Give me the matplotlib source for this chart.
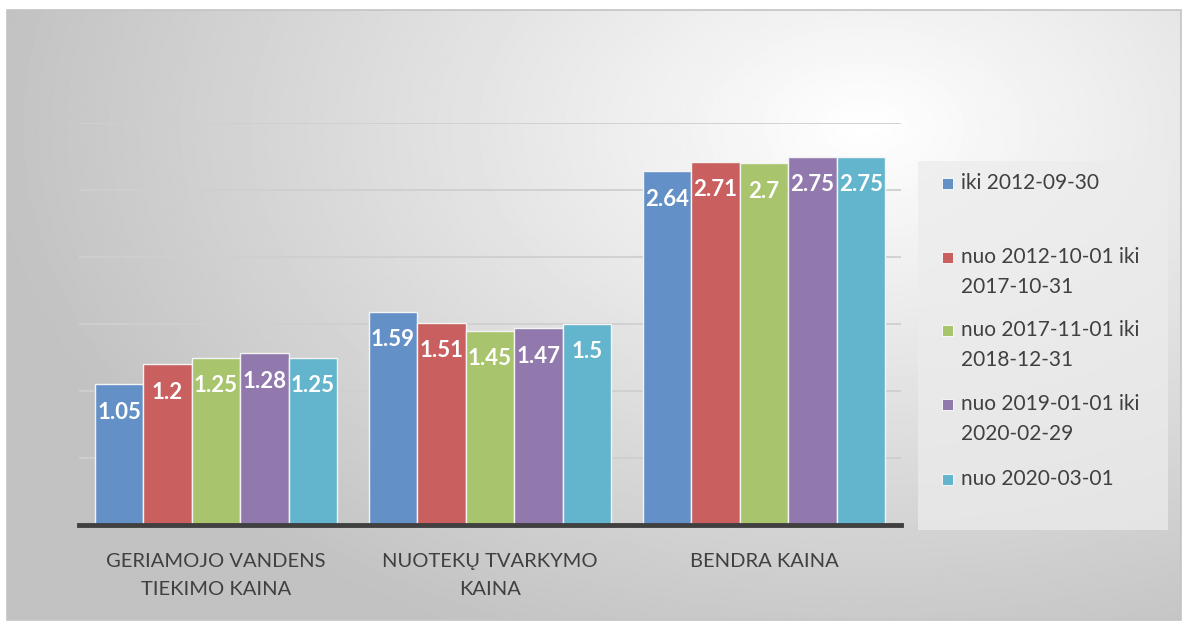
"""
Water price comparison by period (grouped bars)
"""
import matplotlib.pyplot as plt
import numpy as np
from matplotlib.patches import Rectangle

categories = ['GERIAMOJO VANDENS\nTIEKIMO KAINA', 'NUOTEKŲ TVARKYMO\nKAINA', 'BENDRA KAINA']
series_names = ['iki 2012-09-30', 'nuo 2012-10-01 iki\n2017-10-31', 'nuo 2017-11-01 iki\n2018-12-31',
                'nuo 2019-01-01 iki\n2020-02-29', 'nuo 2020-03-01']
values_2012 = [1.05, 1.59, 2.64]
values_2017 = [1.2, 1.51, 2.71]
values_2018 = [1.25, 1.45, 2.7]
values_2020a = [1.28, 1.47, 2.75]
values_2020b = [1.25, 1.5, 2.75]
all_values = [values_2012, values_2017, values_2018, values_2020a, values_2020b]
colors = ['#6391c7', '#c9605f', '#a8c46c', '#9179ae', '#62b5cc']

FONT = ['Lato', 'DejaVu Sans']

fig = plt.figure(figsize=(11.91, 6.23), dpi=100)

# gradient background in a frame
bg = fig.add_axes([0, 0, 1, 1], zorder=-10)
bg.set_xlim(0, 1191)
bg.set_ylim(623, 0)
bg.axis('off')
xx, yy = np.meshgrid(np.linspace(0, 1191, 1200), np.linspace(0, 623, 630))
dist = np.sqrt(((xx - 870) / 1000) ** 2 + ((yy - 120) / 650) ** 2)
shade = np.clip(1.0 - 0.27 * dist, 0.76, 1.0)
bg.imshow(shade, cmap='gray', vmin=0, vmax=1, extent=[7, 1181, 620, 10], aspect='auto',
          interpolation='bilinear', zorder=0)
bg.add_patch(Rectangle((7, 10), 1174, 610, fill=False, edgecolor='#c4c4c4', lw=1.2, zorder=1))

# legend box
bg.add_patch(Rectangle((918, 161), 250, 369, facecolor='#ececec', edgecolor='none', alpha=0.75, zorder=2))
legend_y = [183, 257, 330, 404, 479]
for name, c, ly in zip(series_names, colors, legend_y):
    bg.add_patch(Rectangle((942, ly - 5), 11, 11, facecolor=c, edgecolor='white', lw=0.6, zorder=3))
    lines = name.split('\n')
    for i, line in enumerate(lines):
        bg.text(961, ly + i * 30, line, fontsize=15, color='#404040', va='center', ha='left',
                family=FONT, zorder=3)

ax = fig.add_axes([79 / 1191, 1 - 525 / 623, (901 - 79) / 1191, (525 - 123) / 623])
ax.patch.set_alpha(0)

x = np.arange(len(categories))
width = 0.177
for i, (vals, c) in enumerate(zip(all_values, colors)):
    offs = (i - 2) * width
    bars = ax.bar(x + offs, vals, width, color=c, edgecolor='#f4f4f4', lw=1, zorder=3)
    for b, v in zip(bars, vals):
        ax.annotate(f'{v:g}', (b.get_x() + b.get_width() / 2, v), xytext=(0, -28),
                    textcoords='offset pixels', ha='center', va='center', color='white',
                    fontsize=16, fontweight='bold', family=FONT, zorder=4)

ax.set_xlim(-0.5, 2.5)
ax.set_ylim(0, 3)
ax.set_yticks(np.arange(0.5, 3.01, 0.5))
ax.yaxis.grid(True, color='#cfcfcf', lw=1.3, zorder=0)
ax.tick_params(axis='y', left=False, labelleft=False)
ax.tick_params(axis='x', bottom=False, pad=17)
ax.set_xticks(x)
ax.set_xticklabels(categories, fontsize=14.5, color='#404040', family=FONT, linespacing=1.75)
for s in ['top', 'right', 'left']:
    ax.spines[s].set_visible(False)
ax.spines['bottom'].set_color('#404040')
ax.spines['bottom'].set_linewidth(3.5)
ax.spines['bottom'].set_zorder(5)

plt.savefig('out.png', dpi=100)
